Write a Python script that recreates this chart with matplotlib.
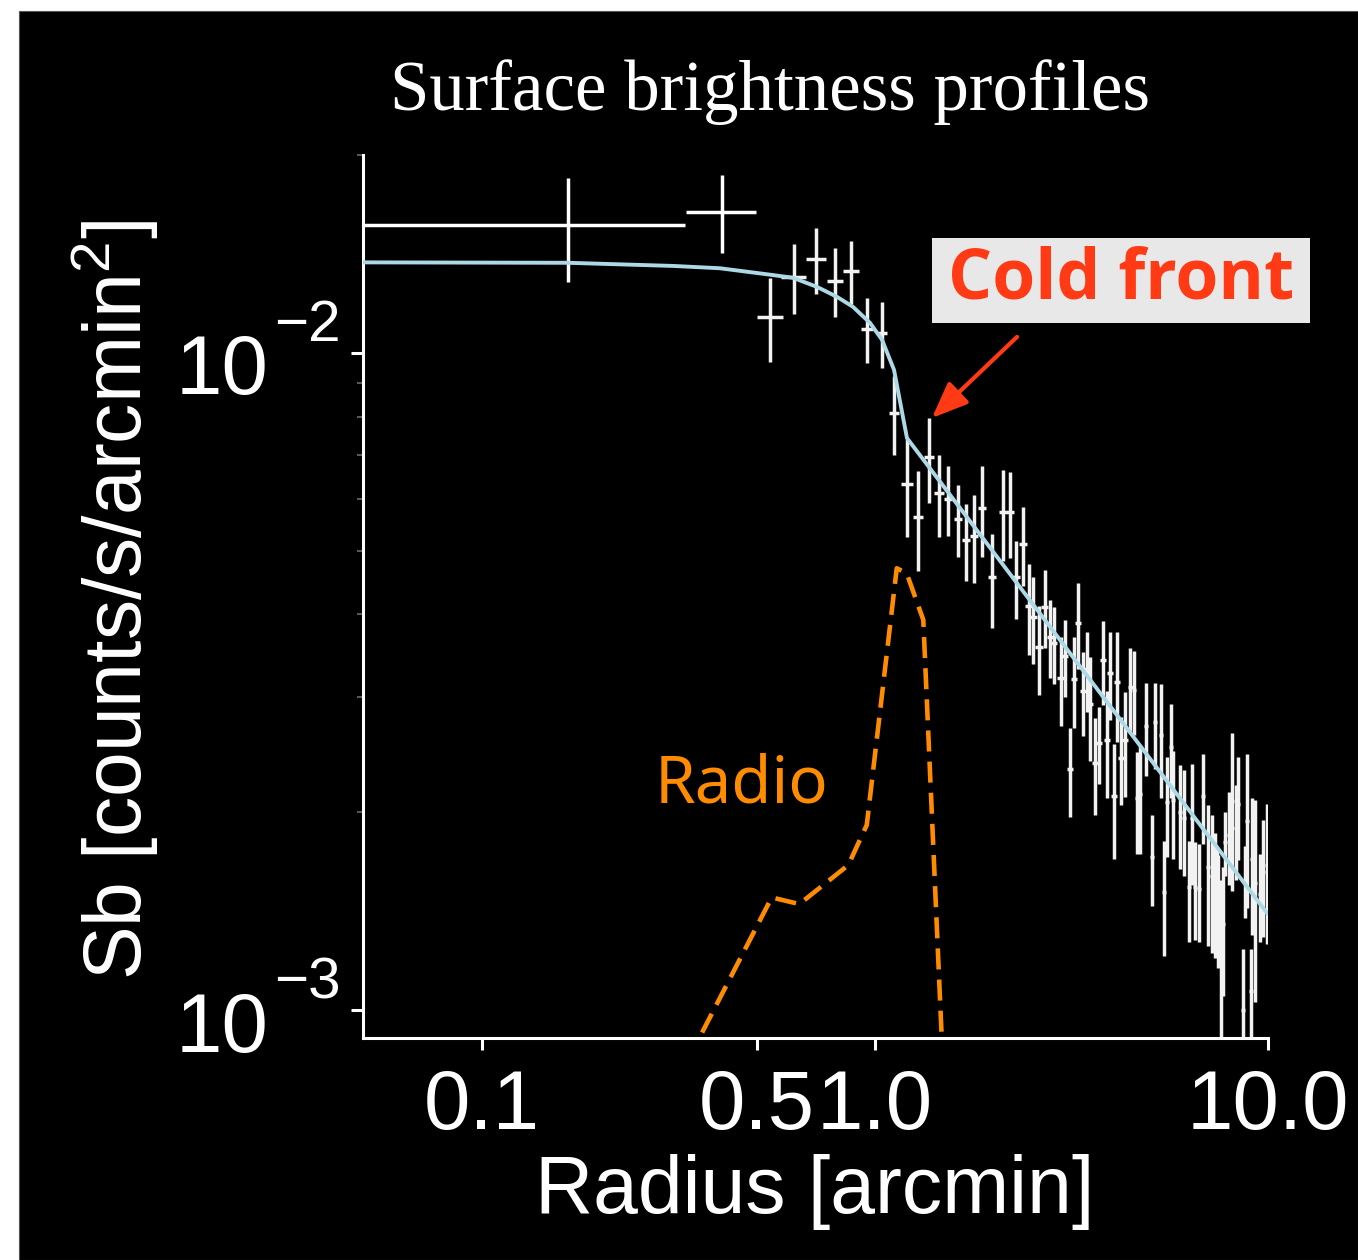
import matplotlib
matplotlib.use("Agg")
import matplotlib.pyplot as plt
from matplotlib.patches import Rectangle
from matplotlib.ticker import FixedLocator, FixedFormatter, NullLocator, NullFormatter, LogLocator

plt.rcParams["font.family"] = ["Liberation Sans", "DejaVu Sans"]
plt.rcParams["mathtext.fontset"] = "custom"
plt.rcParams["mathtext.rm"] = "Liberation Sans"
plt.rcParams["mathtext.it"] = "Liberation Sans:italic"
plt.rcParams["mathtext.bf"] = "Liberation Sans:bold"

# ----------------------------------------------------------
# Data
# ----------------------------------------------------------

# two innermost wide bins (asymmetric radial widths)
r_in = [0.166, 0.408]
r_in_lo = [0.116, 0.078]
r_in_hi = [0.162, 0.090]
sb_in = [0.01566, 0.01640]
sb_in_err = [0.00282, 0.00222]

# remaining bins
radius = [0.541, 0.622, 0.708, 0.791, 0.869, 0.954, 1.042, 1.118, 1.206, 1.286,
          1.372, 1.455, 1.534, 1.626, 1.704, 1.786, 1.872, 1.985, 2.117, 2.206,
          2.285, 2.380, 2.465, 2.523, 2.614, 2.707, 2.788, 2.854, 2.973, 3.044,
          3.134, 3.208, 3.284, 3.382, 3.463, 3.525, 3.629, 3.716, 3.804, 3.894,
          3.963, 4.057, 4.128, 4.227, 4.327, 4.456, 4.560, 4.642, 4.724, 4.893,
          5.068, 5.158, 5.343, 5.438, 5.534, 5.665, 5.732, 5.972, 6.114, 6.295,
          6.407, 6.521, 6.675, 6.833, 7.036, 7.203, 7.330, 7.417, 7.460, 7.592,
          7.682, 7.773, 7.958, 8.098, 8.291, 8.389, 8.639, 8.740, 8.843, 9.049,
          9.105, 9.266, 9.541, 9.712, 9.942]
sb = [0.01134, 0.01305, 0.01390, 0.01287, 0.01333, 0.01088, 0.01072, 0.00810, 0.00632, 0.00563,
      0.00694, 0.00612, 0.00599, 0.00559, 0.00519, 0.00527, 0.00581, 0.00456, 0.00573, 0.00573,
      0.00456, 0.00512, 0.00412, 0.00396, 0.00357, 0.00411, 0.00370, 0.00362, 0.00320, 0.00346,
      0.00233, 0.00319, 0.00388, 0.00306, 0.00330, 0.00292, 0.00238, 0.00255, 0.00341, 0.00258,
      0.00326, 0.00212, 0.00316, 0.00242, 0.00258, 0.00310, 0.00307, 0.00210, 0.00213, 0.00271,
      0.00171, 0.00274, 0.00262, 0.00151, 0.00207, 0.00251, 0.00209, 0.00200, 0.00196, 0.00154,
      0.00196, 0.00154, 0.00153, 0.00212, 0.00165, 0.00160, 0.00153, 0.00150, 0.00144, 0.00122,
      0.00135, 0.00180, 0.00185, 0.00208, 0.00189, 0.00206, 0.00100, 0.00158, 0.00194, 0.00107,
      0.00170, 0.00156, 0.00150, 0.00162, 0.00166]
sb_err = [0.00165, 0.00159, 0.00160, 0.00155, 0.00145, 0.00124, 0.00124, 0.00111, 0.00108, 0.00097,
          0.00103, 0.00088, 0.00073, 0.00070, 0.00070, 0.00080, 0.00092, 0.00075, 0.00090, 0.00085,
          0.00062, 0.00070, 0.00065, 0.00060, 0.00055, 0.00056, 0.00050, 0.00049, 0.00049, 0.00046,
          0.00036, 0.00050, 0.00058, 0.00045, 0.00046, 0.00053, 0.00040, 0.00034, 0.00050, 0.00048,
          0.00050, 0.00042, 0.00060, 0.00037, 0.00047, 0.00045, 0.00045, 0.00037, 0.00040, 0.00044,
          0.00027, 0.00041, 0.00052, 0.00030, 0.00036, 0.00041, 0.00039, 0.00036, 0.00036, 0.00027,
          0.00041, 0.00026, 0.00026, 0.00033, 0.00040, 0.00038, 0.00033, 0.00027, 0.00028, 0.00036,
          0.00030, 0.00020, 0.00030, 0.00056, 0.00031, 0.00037, 0.00024, 0.00020, 0.00051, 0.00017,
          0.00040, 0.00053, 0.00023, 0.00033, 0.00040]
radius_err = [0.041, 0.044, 0.041, 0.037, 0.041, 0.034, 0.030, 0.030, 0.040, 0.038,
              0.040, 0.040, 0.040, 0.040, 0.040, 0.040, 0.045, 0.045, 0.055, 0.055,
              0.055, 0.055, 0.055, 0.055, 0.055, 0.055, 0.055, 0.055, 0.060, 0.060,
              0.060, 0.060, 0.060, 0.060, 0.060, 0.060, 0.060, 0.060, 0.060, 0.060,
              0.065, 0.065, 0.065, 0.065, 0.065, 0.065, 0.065, 0.065, 0.065, 0.070,
              0.070, 0.070, 0.070, 0.070, 0.070, 0.075, 0.075, 0.075, 0.075, 0.080,
              0.080, 0.080, 0.080, 0.080, 0.085, 0.085, 0.085, 0.085, 0.085, 0.090,
              0.090, 0.090, 0.090, 0.095, 0.095, 0.095, 0.100, 0.100, 0.100, 0.100,
              0.100, 0.105, 0.105, 0.105, 0.105]

# best-fit model
model_r = [0.0498, 0.1655, 0.306, 0.403, 0.453, 0.541, 0.618, 0.712, 0.800,
           0.879, 0.971, 1.042, 1.118, 1.206, 9.94]
model_sb = [0.01373, 0.01371, 0.01356, 0.01345, 0.01333, 0.01315, 0.01301, 0.01260, 0.01217,
            0.01175, 0.01111, 0.01047, 0.00942, 0.00742, 0.001405]

# radio profile (arbitrary scale)
radio_r = [0.334, 0.546, 0.642, 0.855, 0.953, 1.136, 1.204, 1.327, 1.478, 1.485]
radio_sb = [0.000839, 0.001484, 0.001450, 0.001662, 0.001913, 0.004702, 0.004620,
            0.003924, 0.000911, 0.000839]

# axes
x_ticks = [0.1, 0.5, 1.0, 10.0]
x_tick_labels = ["0.1", "0.5", "1.0", "10.0"]
y_ticks = [1e-3, 1e-2]
y_tick_exps = ["\u22123", "\u22122"]
x_range = (0.0498, 10.0)
y_range = (9.07e-4, 0.0200)

# cold front marker
front_r = 1.396
front_sb = 0.00796

# ----------------------------------------------------------
# Figure
# ----------------------------------------------------------
W, H = 1358, 1260
fig = plt.figure(figsize=(W / 100, H / 100), dpi=100)
fig.patch.set_facecolor("white")
fig.add_artist(Rectangle((19 / W, 0), 1 - 19 / W, 1 - 11 / H,
                         transform=fig.transFigure, facecolor="black",
                         edgecolor="#555555", linewidth=0.8, zorder=-10))

ax = fig.add_axes([363 / W, 1 - 1038 / H, 905 / W, 883 / H])
ax.set_facecolor("none")
ax.set_xscale("log")
ax.set_yscale("log")
ax.set_xlim(*x_range)
ax.set_ylim(*y_range)

ax.errorbar(r_in, sb_in, yerr=sb_in_err, xerr=[r_in_lo, r_in_hi],
            fmt="none", ecolor="white", elinewidth=2.5, capsize=0, zorder=2)
ax.errorbar(radius, sb, yerr=sb_err, xerr=radius_err,
            fmt="none", ecolor="#f2f2f2", elinewidth=2.5, capsize=0, zorder=2)

ax.plot(model_r, model_sb, color="#add8e6", linewidth=2.8, zorder=3)
ax.plot(radio_r, radio_sb, color="#ff8c00", linewidth=3.3,
        dashes=(4.6, 2.2), zorder=3)

# spines / ticks
for side in ["top", "right"]:
    ax.spines[side].set_visible(False)
for side in ["left", "bottom"]:
    ax.spines[side].set_color("white")
    ax.spines[side].set_linewidth(2.2)

ax.xaxis.set_major_locator(FixedLocator(x_ticks))
ax.xaxis.set_major_formatter(FixedFormatter(x_tick_labels))
ax.xaxis.set_minor_locator(NullLocator())
ax.yaxis.set_major_locator(FixedLocator(y_ticks))
ax.yaxis.set_major_formatter(NullFormatter())
ax.yaxis.set_minor_locator(LogLocator(base=10, subs=range(2, 10)))
ax.yaxis.set_minor_formatter(NullFormatter())

ax.tick_params(axis="both", which="major", colors="white", length=8.5,
               width=2.2)
ax.tick_params(axis="x", which="major", pad=13, labelsize=60)
ax.tick_params(axis="y", which="minor", color="#6a6a6a", length=4.5,
               width=1.2)

# y tick labels drawn as base + raised exponent
for v, e in zip(y_ticks, y_tick_exps):
    ax.annotate("10", xy=(0, v), xycoords=("axes fraction", "data"),
                xytext=(-68, -14), textcoords="offset points",
                ha="right", va="center", color="white", fontsize=60)
    ax.annotate(e, xy=(0, v), xycoords=("axes fraction", "data"),
                xytext=(-64, 19), textcoords="offset points",
                ha="left", va="center", color="white", fontsize=42)

# labels
fig.text(115 / W, 1 - 600 / H, r"Sb [counts/s/arcmin$^{\mathrm{2}}$]",
         rotation=90, ha="center", va="center", color="white", fontsize=58)
fig.text(815 / W, 1 - 1192 / H, "Radius [arcmin]", ha="center", va="center",
         color="white", fontsize=58)
fig.text(770.5 / W, 1 - 110 / H, "Surface brightness profiles",
         ha="center", va="baseline", color="white", fontsize=51,
         family=["Liberation Serif", "DejaVu Serif"])

# annotations
red = "#ff3a14"
box = Rectangle((0.6287, 0.8097), 0.4177, 0.0963, transform=ax.transAxes,
                facecolor="#e8e8e8", edgecolor="none", clip_on=False, zorder=5)
ax.add_patch(box)
ax.text(0.8376, 0.8578, "Cold front", transform=ax.transAxes, ha="center",
        va="center", color=red, fontsize=50, fontweight="bold",
        family=["Open Sans", "DejaVu Sans"], zorder=6)
ax.annotate("", xy=(front_r, front_sb), xycoords="data",
            xytext=(0.7227, 0.794), textcoords="axes fraction",
            arrowprops=dict(arrowstyle="-|>,head_length=1.1,head_width=0.45",
                            color=red, lw=3, shrinkA=0, shrinkB=0,
                            mutation_scale=20),
            zorder=6)
ax.text(0.4177, 0.2854, "Radio", transform=ax.transAxes, ha="center",
        va="center", color="#ff8c00", fontsize=47,
        family=["Noto Sans", "DejaVu Sans"])

fig.savefig("out.png", dpi=100, facecolor=fig.get_facecolor())
